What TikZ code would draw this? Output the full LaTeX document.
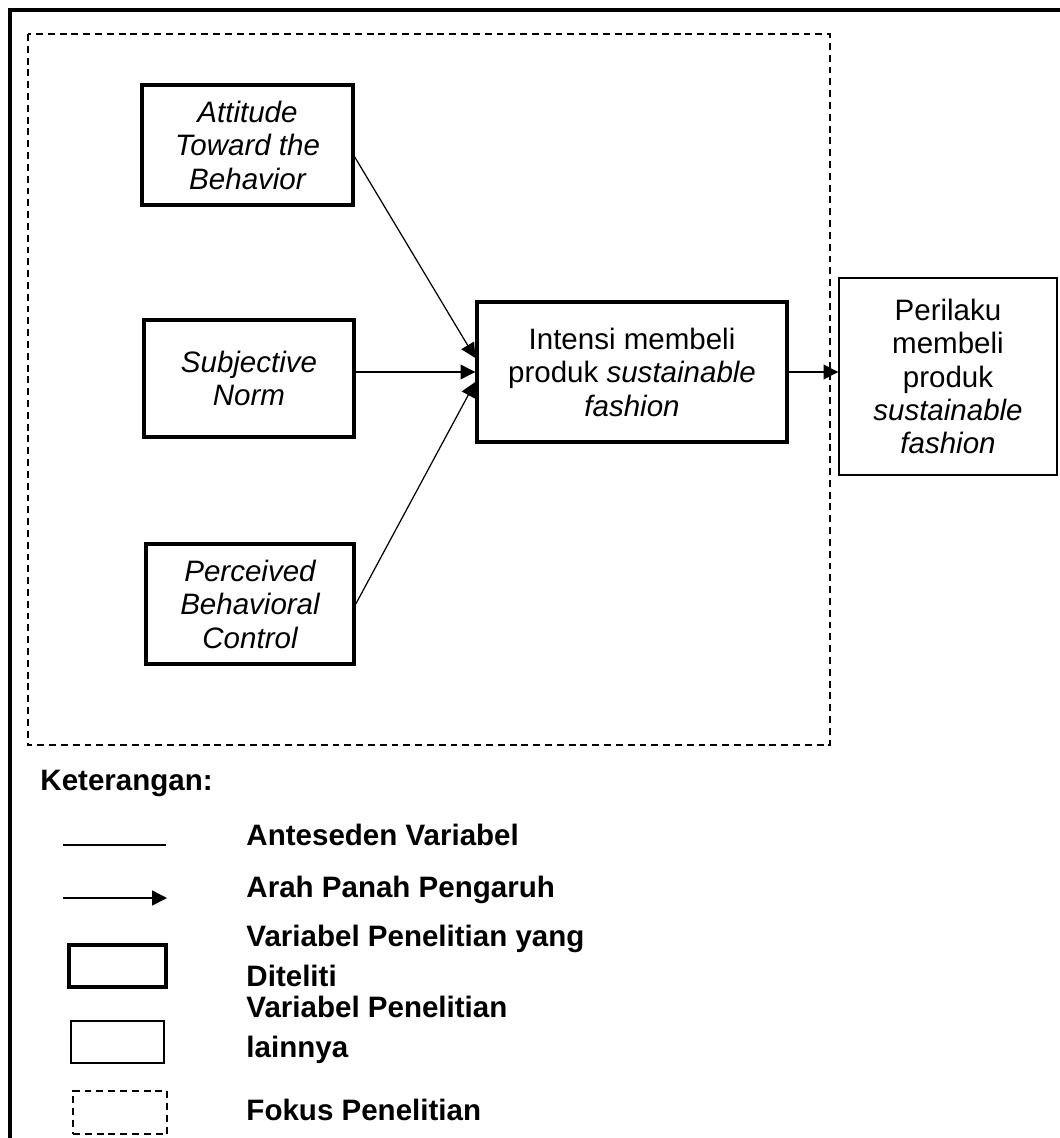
\documentclass[tikz,border=0pt]{standalone}
\usepackage{fontspec}
\setmainfont{Liberation Sans}
\usetikzlibrary{arrows.meta, calc}

\begin{document}
\begin{tikzpicture}[x=0.4065pt,y=-0.4065pt,
        font=\fontsize{12}{13.6}\selectfont,
        var/.style={draw,line width=1.4pt,align=center,inner sep=0pt},
        varother/.style={draw,line width=0.6pt,align=center,inner sep=0pt},
        focus/.style={draw,line width=0.6pt,dash pattern=on 2.8pt off 2pt},
        arr/.style={line width=0.5pt,-{Triangle[length=6pt,width=6pt]}},
        legendtext/.style={font=\fontsize{12}{16.5}\selectfont\bfseries,
                           anchor=west,align=left,inner sep=0pt}
      ]
        \useasboundingbox (0,0) rectangle (1060,1138);
        \clip (0,0) rectangle (1060,1138);
        \draw[line width=1.4pt] (10,10) rectangle (1080,1160);
        \draw[focus] (28,34) rectangle (830,745);
        % variables
        \node[var,font=\fontsize{12}{13.6}\selectfont\itshape,minimum width=85.8pt,minimum height=48.8pt]
          (attitude) at (247.5,145) {Attitude\\Toward the\\Behavior};
        \node[var,font=\fontsize{12}{13.6}\selectfont\itshape,minimum width=85.4pt,minimum height=47.6pt]
          (norm) at (249,378.5) {Subjective\\Norm};
        \node[var,font=\fontsize{12}{13.6}\selectfont\itshape,minimum width=84.6pt,minimum height=48.8pt]
          (control) at (250,604) {Perceived\\Behavioral\\Control};
        \node[var,minimum width=126pt,minimum height=56.9pt]
          (intensi) at (632,372) {Intensi membeli\\produk \textit{sustainable}\\\textit{fashion}};
        \node[varother,minimum width=88.6pt,minimum height=80.1pt]
          (perilaku) at (948,376.5) {Perilaku\\membeli\\produk\\\textit{sustainable}\\\textit{fashion}};
        \draw[arr] ($(attitude.east)+(0,12)$) -- ($(intensi.west)+(0,-14)$);
        \draw[arr] (norm.east |- intensi.west) -- (intensi.west);
        \draw[arr] (control.east) -- ($(intensi.west)+(0,10)$);
        \draw[arr] (intensi.east) -- (perilaku.west |- intensi.east);
        % legend
        \node[legendtext] (ket) at (40,783) {Keterangan:};
        \coordinate (lineA) at (63,845);
        \coordinate (lineB) at (166,845);
        \draw[line width=0.6pt] (lineA) -- (lineB);
        \node[legendtext] (ket1) at (246,835) {Anteseden Variabel};
        \coordinate (arrA) at (63,898);
        \coordinate (arrB) at (167,898);
        \draw[arr,line width=0.6pt] (arrA) -- (arrB);
        \node[legendtext] (ket2) at (246,890) {Arah Panah Pengaruh};
        \node[var,minimum width=39.4pt,minimum height=17.1pt] (boxA) at (117.5,966) {};
        \node[legendtext] (ket3) at (246,956) {Variabel Penelitian yang\\Diteliti};
        \node[varother,minimum width=37.8pt,minimum height=17.1pt] (boxB) at (117.5,1042) {};
        \node[legendtext] (ket4) at (246,1030) {Variabel Penelitian\\lainnya};
        \node[focus,minimum width=38.2pt,minimum height=17.5pt] (boxC) at (120,1112.5) {};
        \node[legendtext] (ket5) at (246,1110) {Fokus Penelitian};
      \end{tikzpicture}
\end{document}
